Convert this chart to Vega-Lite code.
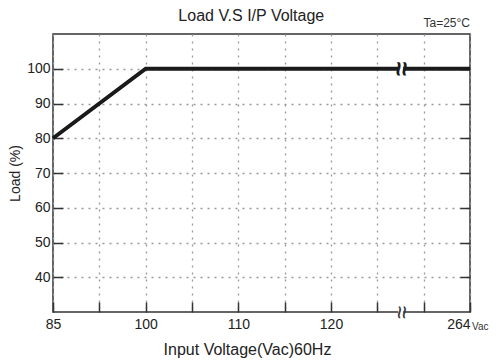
{
  "$schema": "https://vega.github.io/schema/vega-lite/v6.json",
  "width": 417,
  "height": 278,
  "autosize": {"type": "none"},
  "padding": {"left": 53, "top": 34, "right": 30, "bottom": 50},
  "background": "white",
  "config": {
    "font": "Liberation Sans",
    "view": {"stroke": "#333", "strokeWidth": 1.5}
  },
  "data": {
    "values": [
      {"voltage": 85, "load": 80},
      {"voltage": 100, "load": 100},
      {"voltage": 264, "load": 100}
    ]
  },
  "layer": [
    {
      "mark": {"type": "line", "color": "#1a1a1a", "strokeWidth": 4, "strokeCap": "butt"},
      "encoding": {
        "x": {
          "field": "voltage",
          "type": "quantitative",
          "scale": {"domain": [85, 100, 125, 264], "range": [0, 92.67, 324.33, 417], "nice": false, "zero": false},
          "axis": {
            "values": [85, 92.5, 100, 105, 110, 115, 120, 125, 194.5, 264],
            "labelExpr": "indexof([85,100,110,120,264], datum.value) >= 0 ? datum.label : ''",
            "labelAlign": {"condition": {"test": "datum.value == 264", "value": "right"}, "value": "center"},
            "labelFlush": false,
            "labelFontSize": 14,
            "labelColor": "#222",
            "labelPadding": 15,
            "tickSize": -10,
            "tickColor": "#333",
            "tickWidth": 1.5,
            "domain": false,
            "grid": true,
            "gridDash": [2, 5],
            "gridColor": "#999",
            "gridWidth": 1.3,
            "title": "Input Voltage(Vac)60Hz",
            "titleFontSize": 16,
            "titleFontWeight": "normal",
            "titleColor": "#222",
            "titleX": 194,
            "titleY": 37,
            "titleBaseline": "middle"
          }
        },
        "y": {
          "field": "load",
          "type": "quantitative",
          "scale": {"domain": [30, 110], "nice": false, "zero": false},
          "axis": {
            "values": [40, 50, 60, 70, 80, 90, 100],
            "labelFontSize": 14,
            "labelColor": "#222",
            "labelPadding": 13,
            "tickSize": -10,
            "tickColor": "#333",
            "tickWidth": 1.5,
            "domain": false,
            "grid": true,
            "gridDash": [2, 5],
            "gridColor": "#999",
            "gridWidth": 1.3,
            "title": "Load (%)",
            "titleFontSize": 14,
            "titleFontWeight": "normal",
            "titleColor": "#222",
            "titlePadding": 4
          }
        }
      }
    },
    {
      "mark": {"type": "point", "opacity": 0},
      "encoding": {
        "x": {"field": "voltage", "type": "quantitative"},
        "y": {
          "field": "load",
          "type": "quantitative",
          "axis": {
            "orient": "right",
            "values": [40, 50, 60, 70, 80, 90, 100],
            "labels": false,
            "title": null,
            "tickSize": -10,
            "tickColor": "#333",
            "tickWidth": 1.5,
            "domain": false,
            "grid": false
          }
        }
      }
    },
    {
      "data": {"values": [{}]},
      "mark": {"type": "rule", "color": "white", "strokeWidth": 5},
      "encoding": {
        "x": {"datum": 160, "type": "quantitative"},
        "y": {"datum": 98.6, "type": "quantitative", "axis": null},
        "y2": {"datum": 101.4}
      }
    },
    {
      "data": {"values": [{}]},
      "mark": {"type": "rule", "color": "white", "strokeWidth": 5},
      "encoding": {
        "x": {"datum": 160, "type": "quantitative"},
        "y": {"datum": 29.2, "type": "quantitative", "axis": null},
        "y2": {"datum": 30.8}
      }
    },
    {
      "data": {"values": [{}]},
      "mark": {"type": "text", "text": "≈", "angle": 90, "fontSize": 26, "fontWeight": "bold", "color": "#1a1a1a", "baseline": "middle", "align": "center"},
      "encoding": {
        "x": {"datum": 160, "type": "quantitative"},
        "y": {"datum": 100, "type": "quantitative", "axis": null}
      }
    },
    {
      "data": {"values": [{}]},
      "mark": {"type": "text", "text": "≈", "angle": 90, "fontSize": 24, "fontWeight": "normal", "color": "#333", "baseline": "middle", "align": "center"},
      "encoding": {
        "x": {"datum": 160, "type": "quantitative"},
        "y": {"datum": 30, "type": "quantitative", "axis": null}
      }
    },
    {
      "data": {"values": [{}]},
      "mark": {"type": "text", "text": "Load V.S I/P Voltage", "fontSize": 16, "fontWeight": "normal", "color": "#222", "align": "center", "baseline": "alphabetic", "dy": -13},
      "encoding": {
        "x": {"datum": 111.4, "type": "quantitative"},
        "y": {"datum": 110, "type": "quantitative", "axis": null}
      }
    },
    {
      "data": {"values": [{}]},
      "mark": {"type": "text", "text": "Ta=25°C", "fontSize": 12, "fontWeight": "normal", "color": "#333", "align": "right", "baseline": "alphabetic", "dy": -7},
      "encoding": {
        "x": {"datum": 264, "type": "quantitative"},
        "y": {"datum": 110, "type": "quantitative", "axis": null}
      }
    },
    {
      "data": {"values": [{}]},
      "mark": {"type": "text", "text": "Vac", "fontSize": 10, "fontWeight": "normal", "color": "#333", "align": "left", "baseline": "alphabetic", "dx": 2, "dy": 18},
      "encoding": {
        "x": {"datum": 264, "type": "quantitative"},
        "y": {"datum": 30, "type": "quantitative", "axis": null}
      }
    }
  ],
  "resolve": {"axis": {"y": "independent"}}
}
